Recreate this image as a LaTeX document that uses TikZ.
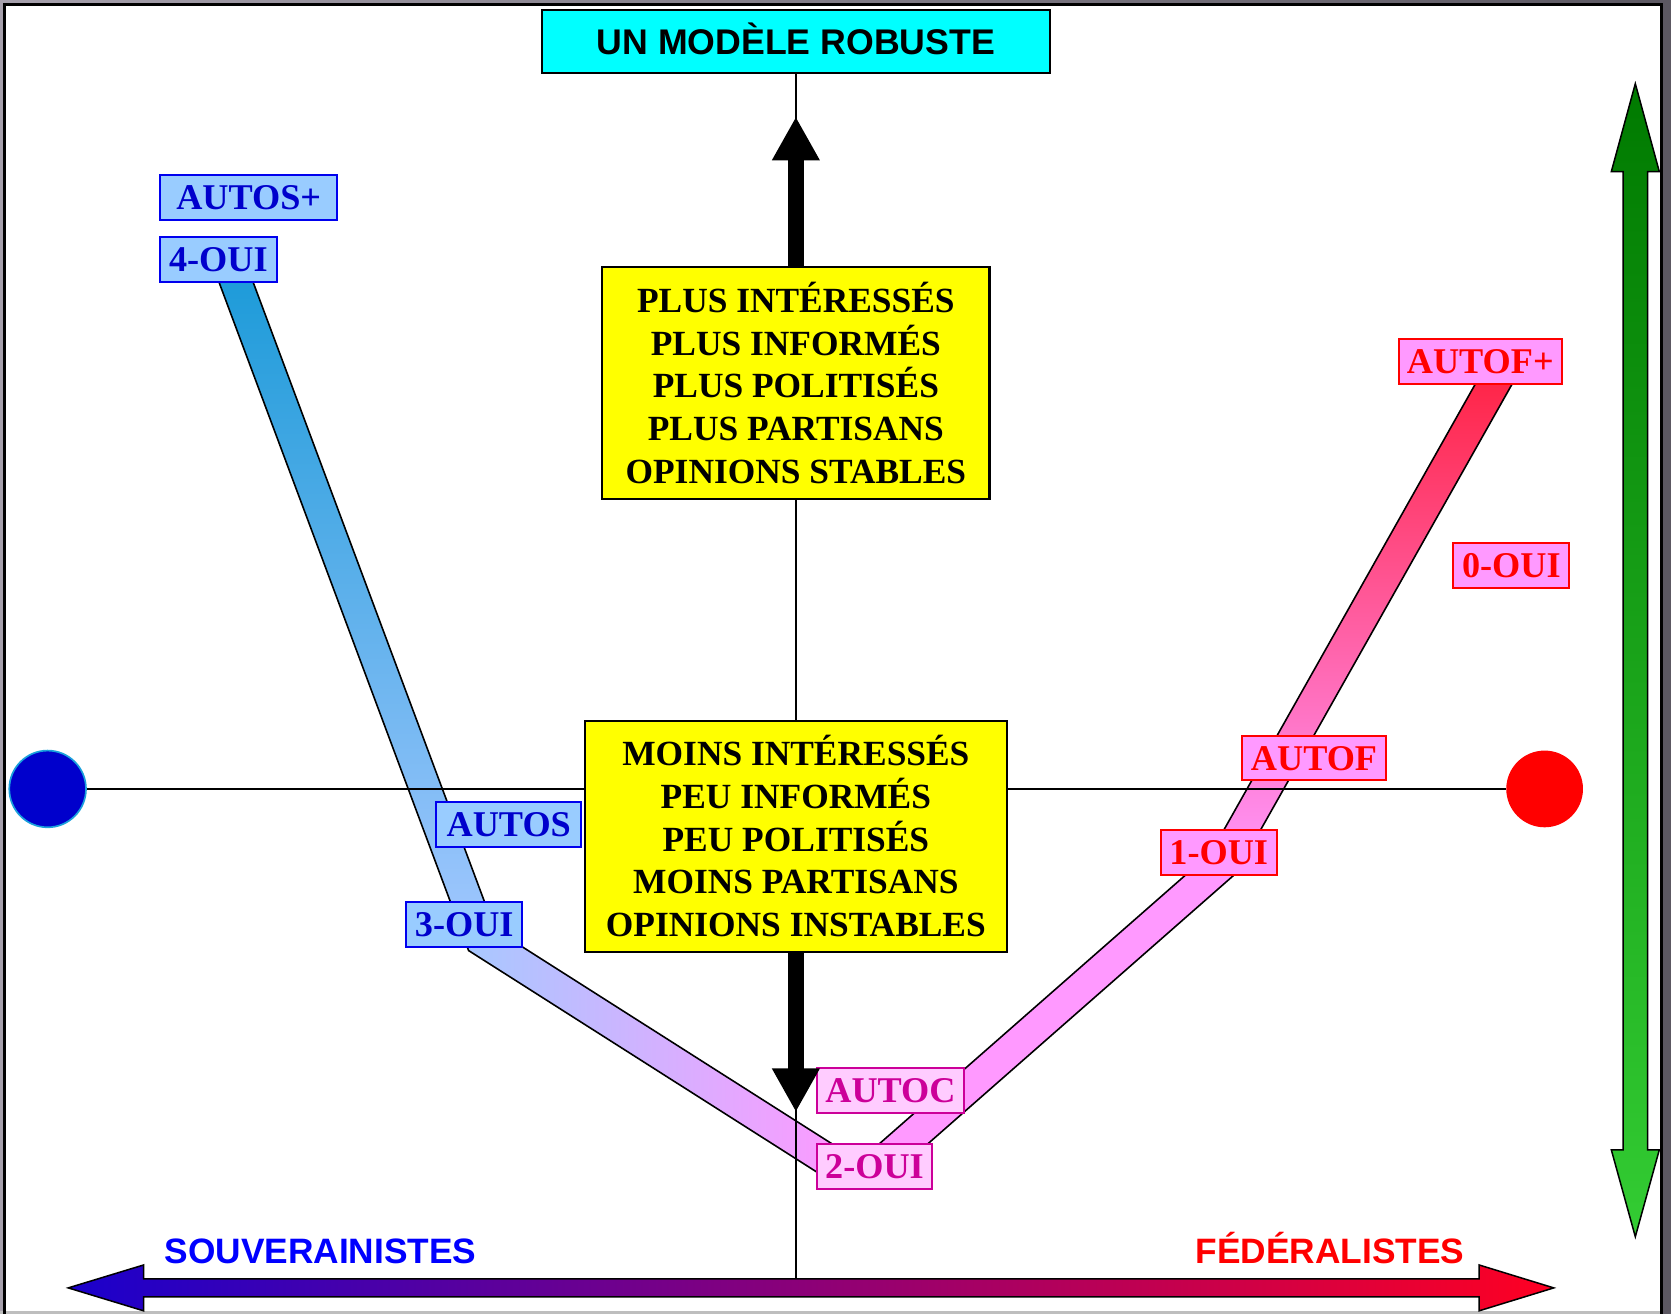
\documentclass[tikz,border=0pt]{standalone}
\usepackage{fontspec}
\setmainfont{Liberation Serif}
\newfontfamily\arialfont{Liberation Sans}
\usetikzlibrary{arrows.meta}
\pgfdeclarelayer{framelayer}
\pgfdeclarelayer{bandlayer}
\pgfdeclarelayer{linelayer}
\pgfsetlayers{framelayer,bandlayer,linelayer,main}
\definecolor{cbox}{HTML}{00FFFF}
\definecolor{ybox}{HTML}{FFFF00}
\definecolor{blfill}{HTML}{99CCFF}
\definecolor{bltext}{HTML}{0000CC}
\definecolor{bldraw}{HTML}{0000EE}
\definecolor{rdfill}{HTML}{FF99FF}
\definecolor{rdtext}{HTML}{FF0000}
\definecolor{mgfill}{HTML}{FFCCFF}
\definecolor{mgtext}{HTML}{CC0099}
\definecolor{lbtop}{HTML}{1A9AD8}
\definecolor{lbmid}{HTML}{A4C8FF}
\definecolor{lbmidb}{HTML}{A8C8FF}
\definecolor{bandpink}{HTML}{FF99FF}
\definecolor{rbtop}{HTML}{FF2040}
\definecolor{rbmid}{HTML}{FF78C8}
\definecolor{grtop}{HTML}{007A00}
\definecolor{grbot}{HTML}{33CC33}
\definecolor{hzleft}{HTML}{1A00CC}
\definecolor{hzmid}{HTML}{A000A8}
\definecolor{hzright}{HTML}{FF0022}
\definecolor{souvblue}{HTML}{0000FF}
\definecolor{fedred}{HTML}{FF0000}
\definecolor{circblue}{HTML}{0000CC}
\definecolor{circedge}{HTML}{1AA0DC}
\definecolor{frameL}{HTML}{A6A0AC}
\definecolor{frameR}{HTML}{5C5862}
\definecolor{framebot}{HTML}{BEBEBE}
\newcommand\lblfont{\fontsize{19.35pt}{23pt}\selectfont\bfseries}
\newcommand\boxfont{\fontsize{18.9pt}{22.8pt}\selectfont\bfseries}
\newcommand\titlefont{\arialfont\fontsize{19.05pt}{23pt}\selectfont\bfseries}
\newcommand\sidefont{\arialfont\fontsize{18.85pt}{23pt}\selectfont\bfseries}
\begin{document}
\begin{tikzpicture}[x=0.02cm,y=-0.02cm,
  lbl/.style={draw, line width=1.1pt, inner sep=0pt, minimum height=0.84cm, text height=13pt, text depth=0pt, font=\lblfont},
  bluelbl/.style={lbl, draw=bldraw, fill=blfill, text=bltext},
  redlbl/.style={lbl, draw=rdtext, fill=rdfill, text=rdtext},
  maglbl/.style={lbl, draw=mgtext, fill=mgfill, text=mgtext},
  infobox/.style={draw=black, line width=1.1pt, fill=ybox, inner sep=0pt, align=center, font=\boxfont},
  titlebox/.style={draw=black, line width=1.1pt, fill=cbox, inner sep=0pt, minimum width=9.53cm, minimum height=1.19cm, text height=13.6pt, text depth=0pt, font=\titlefont},
  thinline/.style={draw=black, line width=0.9pt},
  bandedge/.style={draw=black, line width=0.85pt, line join=miter},
  fatarrow/.style={draw=black, line width=0.3cm, -{Triangle[width=0.84cm,length=0.82cm]}},
  bigarrow/.style={draw=black, line width=0.8pt, line join=miter},
  sidelbl/.style={font=\sidefont, inner sep=0pt, anchor=base},
  dot/.style={circle, inner sep=0pt, minimum size=1.44cm}
]
\useasboundingbox (0,0) rectangle (1568,1233);

% ---- frame ----
\begin{pgfonlayer}{framelayer}
\shade[left color=frameL, right color=frameR] (0,0) rectangle (1568,1233);
\fill[white] (4.3,4.3) rectangle (1559,1230.5);
\fill[framebot] (0,1230.5) rectangle (1568,1233);
\fill[frameR] (1560.4,0) rectangle (1568,1233);
\draw[line width=0.056cm] (4.3,1233) -- (4.3,4.3) -- (1559,4.3) -- (1559,1233);
\end{pgfonlayer}

% ---- boxes and labels ----
\node[titlebox] (title) at (746.8,39.1) {UN MODÈLE ROBUSTE};
\node[infobox, minimum width=7.27cm, minimum height=4.36cm] (plus) at (746.8,359.2)
  {PLUS INTÉRESSÉS\\PLUS INFORMÉS\\PLUS POLITISÉS\\PLUS PARTISANS\\OPINIONS STABLES};
\node[infobox, minimum width=7.91cm, minimum height=4.34cm] (moins) at (746.8,784.6)
  {MOINS INTÉRESSÉS\\PEU INFORMÉS\\PEU POLITISÉS\\MOINS PARTISANS\\OPINIONS INSTABLES};

\node[bluelbl, minimum width=3.33cm] (autosplus) at (233.4,185.4) {AUTOS+};
\node[bluelbl, minimum width=2.19cm] (oui4) at (204.9,243.2) {4-OUI};
\node[bluelbl, minimum width=2.72cm] (autos) at (477.4,773.4) {AUTOS};
\node[bluelbl, minimum width=2.17cm] (oui3) at (435.6,867.2) {3-OUI};
\node[maglbl, minimum width=2.77cm] (autoc) at (835.6,1023.5) {AUTOC};
\node[maglbl, minimum width=2.17cm] (oui2) at (820.6,1094.4) {2-OUI};
\node[redlbl, minimum width=2.18cm] (oui0) at (1418.2,530.5) {0-OUI};
\node[redlbl, minimum width=2.71cm] (autof) at (1233,711.3) {AUTOF};
\node[redlbl, minimum width=2.18cm] (oui1) at (1143.6,799.8) {1-OUI};
\node[redlbl, minimum width=3.06cm] (autofplus) at (1389,338.9) {AUTOF+};

\node[dot, fill=circblue, draw=circedge, line width=0.9pt] (bluec) at (44.7,740.3) {};
\node[dot, fill=red] (redc) at (1449.4,740.3) {};

\node[sidelbl, text=souvblue] (souv) at (300.8,1185.4) {SOUVERAINISTES};
\node[sidelbl, text=fedred] (fed) at (1248.1,1185.4) {FÉDÉRALISTES};

\coordinate (vbot) at (746.8,1200);
\coordinate (tipup) at (746.8,109.5);
\coordinate (tipdown) at (746.8,1043.5);

% ---- bands ----
\begin{pgfonlayer}{bandlayer}
\coordinate (La1) at (230.05,244.75);
\coordinate (La2) at (464.29,872.04);
\coordinate (La3) at (798.05,1084.34);
\coordinate (Lb1) at (201.95,255.25);
\coordinate (Lb2) at (439.71,891.96);
\coordinate (Lb3) at (781.95,1109.66);
\shade[top color=lbtop, bottom color=lbmid] (La1) -- (La2) -- (Lb2) -- (Lb1) -- cycle;
\shade[left color=lbmidb, right color=bandpink] (La2) -- (La3) -- (Lb3) -- (Lb2) -- cycle;
\draw[bandedge] (La1) -- (La2) -- (La3);
\draw[bandedge] (Lb1) -- (Lb2) -- (Lb3);

\coordinate (Ra1) at (820.1,1077.7);
\coordinate (Ra2) at (1136.4,800.1);
\coordinate (Ra3) at (1397.2,337.6);
\coordinate (Rb1) at (839.9,1100.3);
\coordinate (Rb2) at (1160.0,819.3);
\coordinate (Rb3) at (1423.4,352.4);
\fill[bandpink] (Ra1) -- (Ra2) -- (Rb2) -- (Rb1) -- cycle;
\shade[top color=rbtop, middle color=rbmid, bottom color=bandpink] (Ra2) -- (Ra3) -- (Rb3) -- (Rb2) -- cycle;
\draw[bandedge] (Ra1) -- (Ra2) -- (Ra3);
\draw[bandedge] (Rb1) -- (Rb2) -- (Rb3);
\end{pgfonlayer}

% ---- thin axes ----
\begin{pgfonlayer}{linelayer}
\draw[thinline] (title.south) -- (vbot);
\draw[thinline] (bluec.east) -- (redc.west);
\end{pgfonlayer}

% ---- fat black arrows ----
\draw[fatarrow] (plus.north) -- (tipup);
\draw[fatarrow] (moins.south) -- (tipdown);

% ---- green vertical double arrow ----
\shade[top color=grtop, bottom color=grbot] (1534.5,78.5) -- (1557,161) -- (1546,161) -- (1546,1079) -- (1557,1079)
  -- (1534.5,1160.5) -- (1512,1079) -- (1523,1079) -- (1523,161) -- (1512,161) -- cycle;
\draw[bigarrow] (1534.5,78.5) -- (1557,161) -- (1546,161) -- (1546,1079) -- (1557,1079)
  -- (1534.5,1160.5) -- (1512,1079) -- (1523,1079) -- (1523,161) -- (1512,161) -- cycle;

% ---- horizontal double arrow ----
\shade[left color=hzleft, middle color=hzmid, right color=hzright] (64,1208.5) -- (134.7,1187) -- (134.7,1200) -- (1388,1200)
  -- (1388,1187) -- (1458,1208.5) -- (1388,1230) -- (1388,1217) -- (134.7,1217) -- (134.7,1230) -- cycle;
\draw[bigarrow] (64,1208.5) -- (134.7,1187) -- (134.7,1200) -- (1388,1200)
  -- (1388,1187) -- (1458,1208.5) -- (1388,1230) -- (1388,1217) -- (134.7,1217) -- (134.7,1230) -- cycle;

% redraw labels over bands/arrows (they are nodes already on main; bands below)
\end{tikzpicture}
\end{document}
